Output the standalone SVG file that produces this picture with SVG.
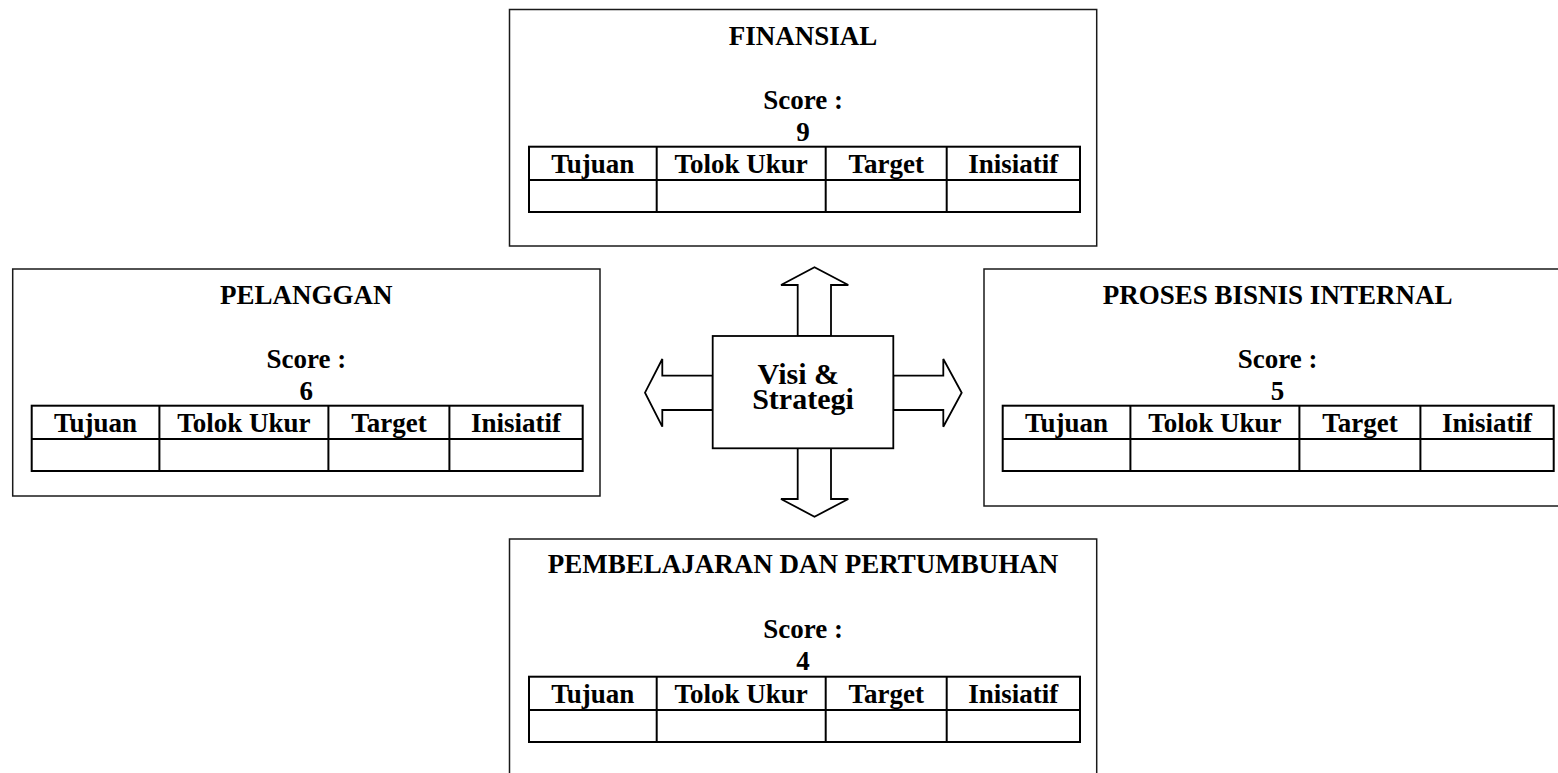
<svg xmlns="http://www.w3.org/2000/svg" width="1558" height="773" viewBox="0 0 1558 773">
  <style>
    .frame { fill: #ffffff; stroke: #1a1a1a; stroke-width: 1.5; }
    .grid { fill: none; stroke: #000000; stroke-width: 2; }
    .txt { font-family: "Liberation Serif", "Times New Roman", serif; font-weight: bold; font-size: 27px; fill: #000000; text-anchor: middle; }
    .core { font-size: 30px; }
    .arrow { fill: #ffffff; stroke: #000000; stroke-width: 1.8; stroke-linejoin: miter; }
  </style>
  <defs>
    <!-- Shared scorecard table: header row + one empty row -->
    <g id="scoreTable">
      <rect class="grid" x="0" y="0" width="551" height="65.3"/>
      <line class="grid" x1="0" y1="33.3" x2="551" y2="33.3"/>
      <line class="grid" x1="127.7" y1="0" x2="127.7" y2="65.3"/>
      <line class="grid" x1="296.7" y1="0" x2="296.7" y2="65.3"/>
      <line class="grid" x1="417.7" y1="0" x2="417.7" y2="65.3"/>
      <text class="txt" x="63.8" y="26.7">Tujuan</text>
      <text class="txt" x="212.2" y="26.7">Tolok Ukur</text>
      <text class="txt" x="357.2" y="26.7">Target</text>
      <text class="txt" x="484.3" y="26.7">Inisiatif</text>
    </g>
  </defs>

  <!-- Connectors: hollow block arrows from the centre box -->
  <g id="connectors">
    <polygon class="arrow" points="797.7,336 797.7,285 781,285 814.5,267.3 848.3,285 831,285 831,336"/>
    <polygon class="arrow" points="797.7,448 797.7,499 781,499 814.5,516.7 848.3,499 831,499 831,448"/>
    <polygon class="arrow" points="712.7,375.7 662.3,375.7 662.3,359 645,392.7 662.3,426.7 662.3,410 712.7,410"/>
    <polygon class="arrow" points="893.3,375.7 943.3,375.7 943.3,359 961.7,392.7 943.3,426.7 943.3,410 893.3,410"/>
  </g>

  <!-- Centre: vision and strategy -->
  <g id="visi-strategi">
    <rect x="712.7" y="336" width="180.6" height="112.3" fill="#ffffff" stroke="#000000" stroke-width="1.8"/>
    <text class="txt core" x="798.3" y="383.5">Visi &amp;</text>
    <text class="txt core" x="803" y="409.3">Strategi</text>
  </g>

  <!-- Financial perspective -->
  <g id="finansial" transform="translate(509.5,9.5)">
    <rect class="frame" x="0" y="0" width="587.2" height="236.5"/>
    <text class="txt" x="293.6" y="35.5">FINANSIAL</text>
    <text class="txt" x="293.6" y="99">Score :</text>
    <text class="txt" x="293.6" y="131">9</text>
    <use href="#scoreTable" x="19.5" y="137.2"/>
  </g>

  <!-- Customer perspective -->
  <g id="pelanggan" transform="translate(12.7,269)">
    <rect class="frame" x="0" y="0" width="587.3" height="227"/>
    <text class="txt" x="293.6" y="35">PELANGGAN</text>
    <text class="txt" x="293.6" y="99">Score :</text>
    <text class="txt" x="293.6" y="131">6</text>
    <use href="#scoreTable" x="19" y="136.7"/>
  </g>

  <!-- Internal business process perspective -->
  <g id="proses-bisnis-internal" transform="translate(984,269)">
    <rect class="frame" x="0" y="0" width="587.2" height="237"/>
    <text class="txt" x="293.6" y="35.3">PROSES BISNIS INTERNAL</text>
    <text class="txt" x="293.6" y="99.3">Score :</text>
    <text class="txt" x="293.6" y="131">5</text>
    <use href="#scoreTable" x="18.7" y="136.7"/>
  </g>

  <!-- Learning and growth perspective -->
  <g id="pembelajaran-pertumbuhan" transform="translate(509.5,539)">
    <rect class="frame" x="0" y="0" width="587.2" height="237"/>
    <text class="txt" x="293.6" y="34.3" font-size="27.5">PEMBELAJARAN DAN PERTUMBUHAN</text>
    <text class="txt" x="293.6" y="99.3">Score :</text>
    <text class="txt" x="293.6" y="131">4</text>
    <use href="#scoreTable" x="19.5" y="137.7"/>
  </g>
</svg>
